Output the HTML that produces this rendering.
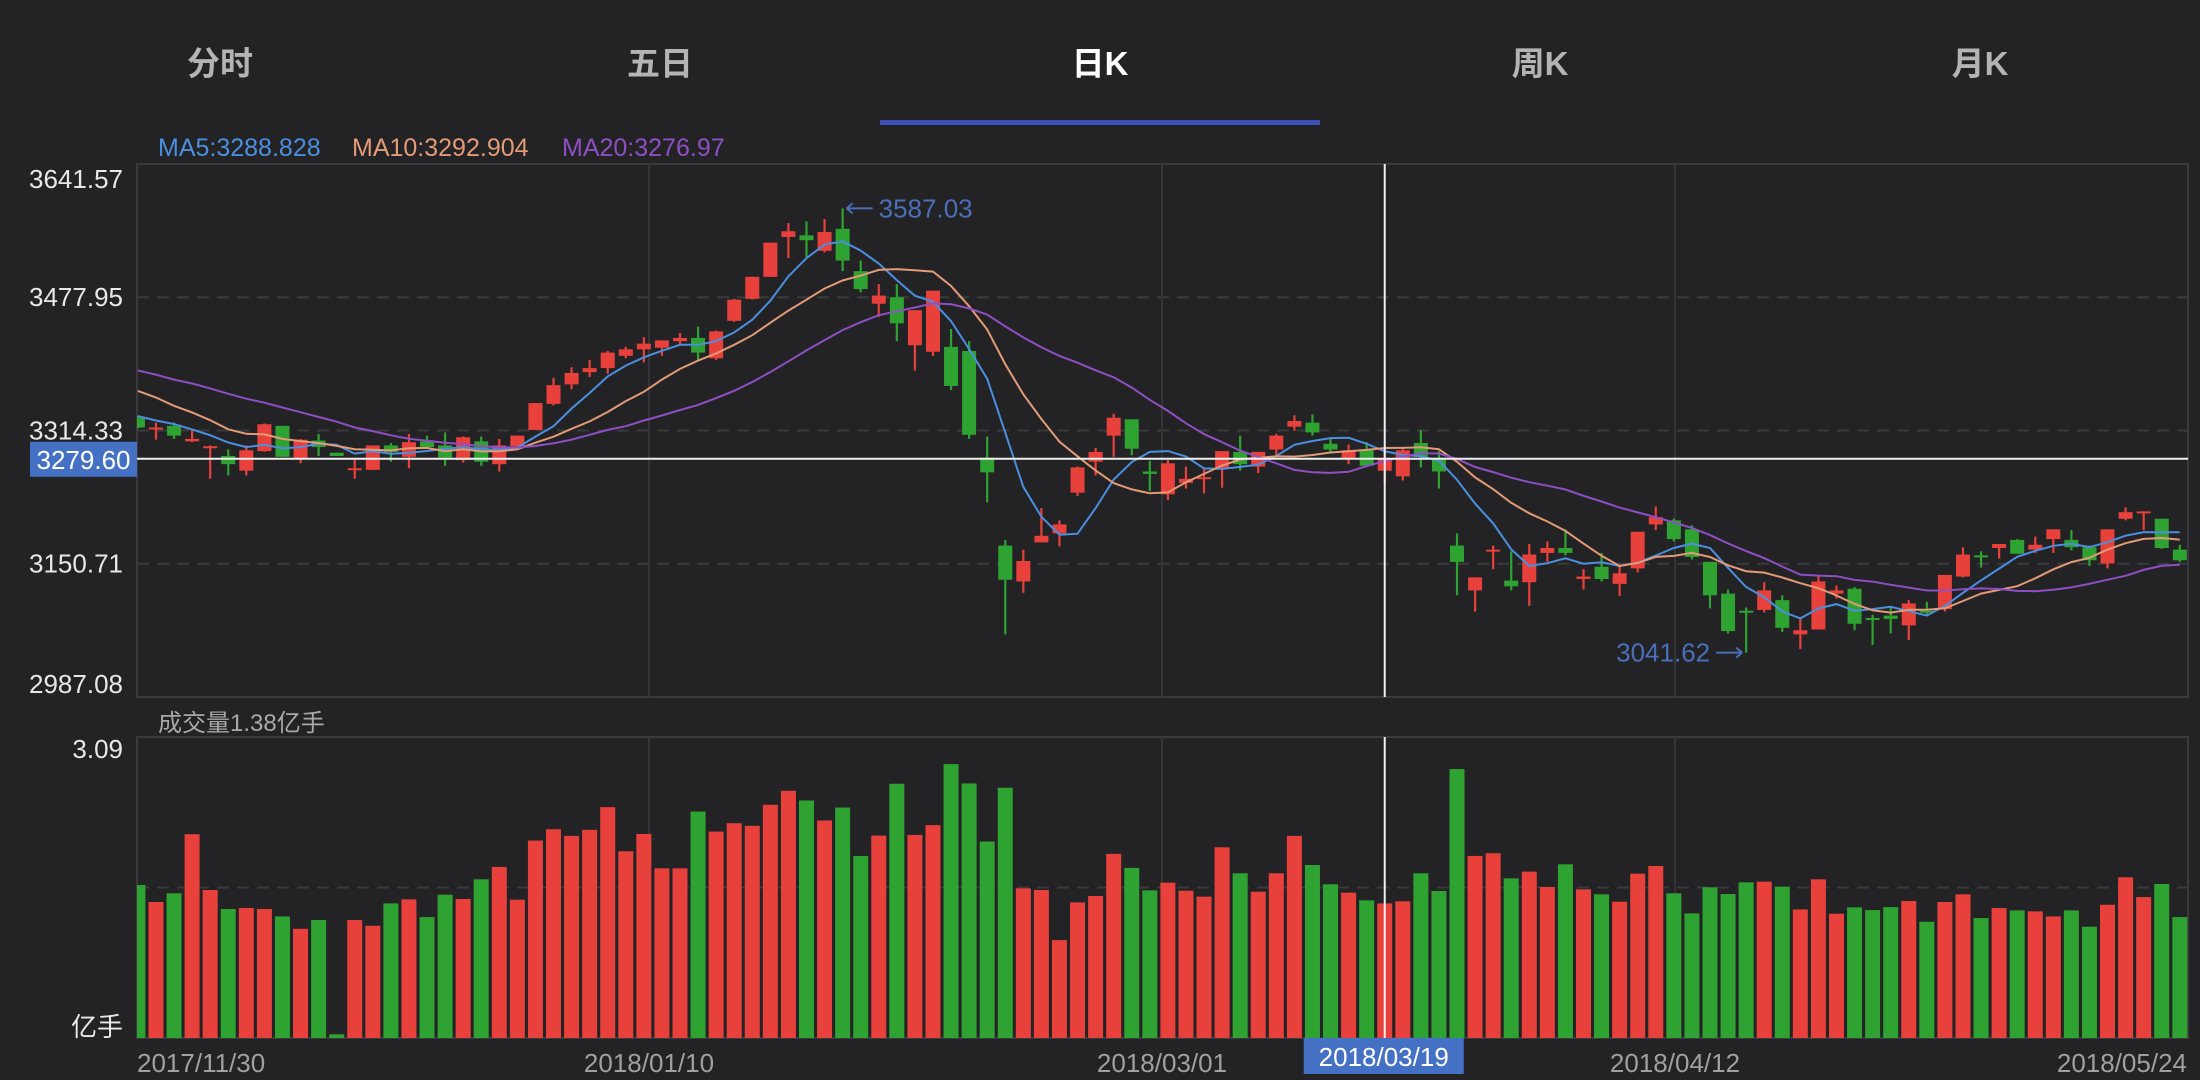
<!DOCTYPE html>
<html><head><meta charset="utf-8"><style>
html,body{margin:0;padding:0;background:#232325;}
body{width:2200px;height:1080px;overflow:hidden;position:relative;font-family:"Liberation Sans","Noto Sans CJK SC",sans-serif;}
.tab{position:absolute;top:40px;width:440px;text-align:center;font-size:33px;font-weight:bold;color:#b4b4b4;line-height:48px;}
.tab.active{color:#ffffff;}
</style></head><body>
<div class="tab" style="left:0">分时</div>
<div class="tab" style="left:440px">五日</div>
<div class="tab active" style="left:880px">日K</div>
<div class="tab" style="left:1320px">周K</div>
<div class="tab" style="left:1760px">月K</div>
<div style="position:absolute;left:880px;top:120px;width:440px;height:5px;background:#3f4fb8"></div>
<svg id="chart" width="2200" height="1080" style="position:absolute;left:0;top:0" xmlns="http://www.w3.org/2000/svg"></svg>
<script>
const opens=[3330,3316,3320,3301,3293,3283,3265,3289,3320,3279,3302,3287,3267,3266,3296,3282,3301,3296,3278,3301,3273,3295,3315,3347,3371,3386,3391,3406,3414,3416,3424,3428,3403,3449,3476,3503,3552,3554,3535,3562,3510,3470,3478,3419,3411,3417,3412,3281,3173,3129,3177,3188,3238,3276,3308,3328,3264,3236,3250,3255,3267,3288,3270,3291,3319,3324,3298,3279,3290,3265,3258,3299,3281,3173,3118,3166,3130,3128,3164,3170,3132,3147,3126,3145,3199,3204,3193,3153,3114,3093,3094,3106,3064,3070,3114,3120,3084,3087,3075,3093,3095,3135,3161,3170,3180,3168,3181,3180,3171,3151,3206,3213,3206,3168];
const highs=[3332,3324,3324,3316,3296,3291,3296,3323,3320,3304,3310,3287,3279,3296,3299,3310,3308,3312,3307,3307,3304,3308,3348,3379,3392,3401,3412,3417,3429,3425,3434,3442,3437,3476,3503,3545,3569,3571,3574,3587.03,3523,3494,3494,3462,3486,3439,3424,3307,3180,3168,3219,3204,3270,3293,3335,3328,3277,3278,3270,3268,3289,3308,3288,3310,3333,3334,3304,3297,3300,3291,3292,3315,3289,3188,3134,3173,3166,3175,3178,3193,3144,3164,3148,3190,3221,3206,3198,3153,3119,3097,3128,3112,3085,3136,3124,3122,3088,3099,3106,3104,3137,3171,3166,3175,3181,3184,3193,3192,3173,3193,3220,3215,3206,3174];
const lows=[3317,3303,3304,3300,3255,3259,3259,3288,3282,3274,3283,3283,3255,3266,3276,3268,3293,3271,3275,3271,3264,3293,3315,3345,3365,3380,3384,3403,3398,3406,3418,3401,3401,3448,3475,3503,3526,3527,3533,3510,3484,3454,3424,3388,3406,3364,3304,3226,3064,3115,3177,3172,3234,3259,3282,3284,3240,3229,3243,3237,3244,3265,3262,3284,3314,3308,3288,3273,3270,3250,3253,3269,3243,3112,3092,3144,3118,3099,3153,3161,3119,3129,3111,3140,3192,3178,3156,3096,3065,3041.62,3091,3067,3046,3070,3108,3069,3051,3065,3057,3087,3092,3134,3146,3157,3163,3164,3164,3167,3148,3145,3204,3192,3169,3153];
const closes=[3318,3318,3308,3304,3295,3273,3290,3322,3282,3303,3294,3283,3268,3296,3288,3300,3294,3281,3306,3276,3296,3308,3348,3370,3385,3391,3410,3414,3421,3425,3428,3410,3436,3475,3503,3545,3559,3548,3558,3523,3488,3480,3446,3462,3486,3369,3309,3263,3131,3154,3185,3199,3269,3288,3330,3292,3261,3274,3255,3257,3289,3273,3288,3308,3326,3312,3291,3290,3271,3280,3290,3282,3264,3153,3134,3168,3123,3162,3170,3164,3135,3132,3139,3190,3208,3181,3159,3112,3068,3091,3118,3072,3069,3129,3118,3077,3082,3083,3102,3091,3137,3162,3159,3175,3163,3174,3193,3171,3155,3193,3214,3215,3170,3155];
const volumes=[1.571,1.396,1.485,2.092,1.519,1.324,1.334,1.324,1.248,1.121,1.211,0.038,1.211,1.152,1.382,1.423,1.241,1.471,1.427,1.629,1.756,1.420,2.027,2.143,2.075,2.137,2.370,1.917,2.095,1.742,1.742,2.325,2.119,2.205,2.178,2.394,2.538,2.438,2.233,2.366,1.869,2.078,2.610,2.085,2.185,2.812,2.613,2.017,2.569,1.536,1.519,1.005,1.392,1.458,1.890,1.746,1.516,1.595,1.512,1.451,1.958,1.691,1.502,1.691,2.075,1.776,1.578,1.492,1.413,1.382,1.403,1.691,1.509,2.761,1.869,1.897,1.639,1.708,1.550,1.783,1.526,1.475,1.399,1.687,1.766,1.485,1.279,1.547,1.478,1.598,1.605,1.554,1.320,1.629,1.276,1.341,1.313,1.344,1.406,1.193,1.396,1.475,1.231,1.334,1.310,1.300,1.248,1.310,1.142,1.368,1.650,1.447,1.581,1.241];
const priorCloses=[3420,3430,3400,3415,3405,3410,3420,3400,3420,3410,3400,3410,3385,3390,3385,3345,3330,3337,3330];
const priceTicks=[3641.57,3477.95,3314.33,3150.71,2987.08];
const dateLabels=["2017/11/30","2018/01/10","2018/03/01","2018/04/12","2018/05/24"];
const dateIdx=[0,28,56,84,113];
const volMax=3.09;
const crossIdx=69, crossPrice=3279.60;

const svg=document.getElementById('chart');
const NS='http://www.w3.org/2000/svg';
function mk(tag,attrs,parent){const e=document.createElementNS(NS,tag);for(const k in attrs)e.setAttribute(k,attrs[k]);(parent||svg).appendChild(e);return e;}
const PL=137,PR=2188,PT=164,PB=697,VT=737,VB=1038;
const pMax=3641.57,pMin=2987.08;
const xS=i=>137.9+18.07*i;
const yS=p=>PT+(pMax-p)/(pMax-pMin)*(PB-PT);
const vS=v=>VB-v/volMax*(VB-VT);
const RED='#e8413c',GREEN='#2fa332';

// frames
let f=mk('rect',{x:PL,y:PT,width:PR-PL,height:PB-PT,fill:'none',stroke:'#3a3a3c','stroke-width':2});


f=mk('rect',{x:PL,y:VT,width:PR-PL,height:VB-VT,fill:'none',stroke:'#3a3a3c','stroke-width':2});


// grid
for(let k=1;k<4;k++){const y=yS(priceTicks[k]);
 const g=mk('line',{x1:PL,x2:PR,y1:y,y2:y,stroke:'#3a3a3c','stroke-width':2,'stroke-dasharray':'12,8'});
 
 }
let vg=mk('line',{x1:PL,x2:PR,y1:(VT+VB)/2,y2:(VT+VB)/2,stroke:'#3a3a3c','stroke-width':2,'stroke-dasharray':'12,8'});


for(let k=1;k<4;k++){const x=xS(dateIdx[k])-(k===1?0:0);
 const gx=[649,1162,1675][k-1];
 let l=mk('line',{x1:gx,x2:gx,y1:PT,y2:PB,stroke:'#353537','stroke-width':2});
 
 
 l=mk('line',{x1:gx,x2:gx,y1:VT,y2:VB,stroke:'#353537','stroke-width':2});
 
 }
// clip
const defs=mk('defs',{});
const cp=mk('clipPath',{id:'pc'},defs);mk('rect',{x:PL,y:PT,width:PR-PL,height:PB-PT},cp);
const cv=mk('clipPath',{id:'vc'},defs);mk('rect',{x:PL,y:VT,width:PR-PL,height:VB-VT},cv);
const gP=mk('g',{'clip-path':'url(#pc)'});
const gV=mk('g',{'clip-path':'url(#vc)'});
// candles & volume
for(let i=0;i<closes.length;i++){
 const up=closes[i]>=opens[i];const c=up?RED:GREEN;const x=xS(i);
 const w=mk('line',{x1:x,x2:x,y1:yS(highs[i]),y2:yS(lows[i]),stroke:c,'stroke-width':2.2},gP);
 
 
 const t=yS(Math.max(opens[i],closes[i])),b=yS(Math.min(opens[i],closes[i]));
 const r=mk('rect',{x:x-7,y:t,width:14,height:Math.max(b-t,2),fill:c},gP);
 
 
 const vb=mk('rect',{x:x-7.5,y:vS(volumes[i]),width:15,height:VB-vS(volumes[i]),fill:c},gV);
 
 
}
// moving averages
const all=priorCloses.concat(closes);const P=priorCloses.length;
function ma(n){const out=[];for(let i=0;i<closes.length;i++){let s=0,c=0;for(let j=P+i-n+1;j<=P+i;j++){if(j>=0){s+=all[j];c++;}}out.push(s/c);}return out;}
[[5,'#4a8fe0','ma5-line'],[10,'#e39a76','ma10-line'],[20,'#8e4fc4','ma20-line']].forEach(([n,col,nm])=>{
 const m=ma(n);const d=m.map((v,i)=>(i?'L':'M')+xS(i).toFixed(1)+','+yS(v).toFixed(1)).join('');
 const p=mk('path',{d:d,fill:'none',stroke:col,'stroke-width':2},gP);
 
 
});
// annotations
const hi=highs.indexOf(Math.max(...highs)),lo=lows.indexOf(Math.min(...lows));
let ax=xS(hi)+4,ay=yS(highs[hi]);
let a=mk('path',{d:`M${ax},${ay}L${ax+26},${ay}M${ax},${ay}l6,-5M${ax},${ay}l6,5`,stroke:'#4a6fb8','stroke-width':2,fill:'none'});


let tx=mk('text',{x:ax+32,y:ay+9,fill:'#4a6fb8','font-size':26});tx.textContent=highs[hi].toFixed(2);


ax=xS(lo)-4;ay=yS(lows[lo]);
a=mk('path',{d:`M${ax},${ay}L${ax-26},${ay}M${ax},${ay}l-6,-5M${ax},${ay}l-6,5`,stroke:'#4a6fb8','stroke-width':2,fill:'none'});


tx=mk('text',{x:ax-32,y:ay+9,fill:'#4a6fb8','font-size':26,'text-anchor':'end'});tx.textContent=lows[lo].toFixed(2);


// price tick labels
priceTicks.forEach((p,k)=>{let y=yS(p)+9;if(k===0)y=yS(p)+24;if(k===4)y=yS(p)-4;
 const t=mk('text',{x:123,y:y,fill:'#e8e8e8','font-size':26,'text-anchor':'end'});t.textContent=p.toFixed(2);
 
 });
// volume labels
let vt=mk('text',{x:123,y:758,fill:'#e8e8e8','font-size':26,'text-anchor':'end'});vt.textContent=volMax.toFixed(2);


vt=mk('text',{x:123,y:1036,fill:'#e8e8e8','font-size':26,'text-anchor':'end'});vt.textContent='亿手';


vt=mk('text',{x:158,y:731,fill:'#a8a8a8','font-size':24});vt.textContent='成交量1.38亿手';


// legend
[['MA5:3288.828','#4a8fe0',158],['MA10:3292.904','#e39a76',352],['MA20:3276.97','#8e4fc4',562]].forEach(([s,c,x],k)=>{
 const t=mk('text',{x:x,y:156,fill:c,'font-size':25});t.textContent=s;
 
 });
// date labels
dateLabels.forEach((s,k)=>{const xs=[137,649,1162,1675,2187];const an=['start','middle','middle','middle','end'][k];
 const t=mk('text',{x:xs[k],y:1072,fill:'#a0a0a4','font-size':26,'text-anchor':an});t.textContent=s;
 
 });
// crosshair
const cx=xS(crossIdx),cy=yS(crossPrice);
let ch=mk('line',{x1:PL,x2:PR,y1:cy,y2:cy,stroke:'#f0f0f0','stroke-width':2});


ch=mk('line',{x1:cx,x2:cx,y1:PT,y2:PB,stroke:'#f0f0f0','stroke-width':2});


ch=mk('line',{x1:cx,x2:cx,y1:VT,y2:VB,stroke:'#f0f0f0','stroke-width':2});


let bx=mk('rect',{x:30,y:cy-17,width:107,height:35,fill:'#4571c4'});


let bt=mk('text',{x:83.5,y:cy+10,fill:'#ffffff','font-size':26,'text-anchor':'middle'});bt.textContent=crossPrice.toFixed(2);


bx=mk('rect',{x:cx-81,y:1038,width:160,height:36,fill:'#4571c4'});


bt=mk('text',{x:cx-1,y:1066,fill:'#ffffff','font-size':26,'text-anchor':'middle'});bt.textContent='2018/03/19';


</script>
</body></html>
